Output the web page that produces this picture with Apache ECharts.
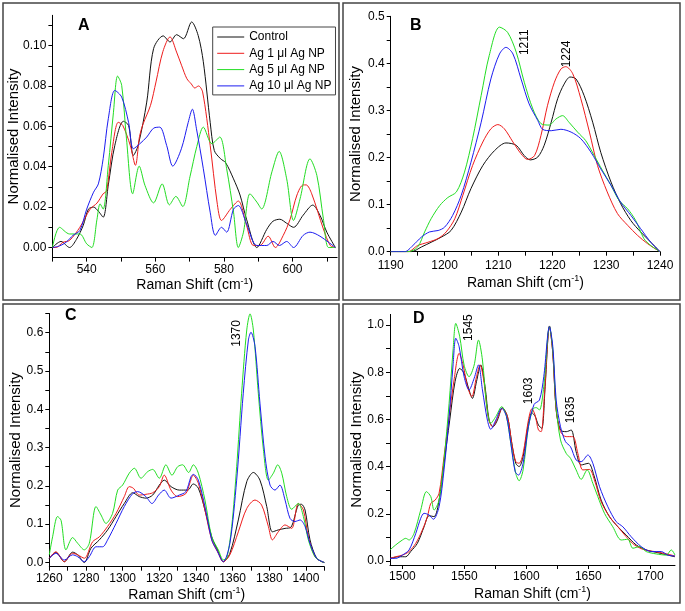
<!DOCTYPE html>
<html>
<head>
<meta charset="utf-8">
<script src="https://cdn.jsdelivr.net/npm/echarts@6/dist/echarts.min.js"></script>
<style>
html,body{margin:0;padding:0;background:#fff;}
#chart{width:685px;height:611px;}
</style>
</head>
<body>
<div id="chart"></div>
<script>
// ---------- series names ----------
var seriesNames = ['Control', 'Ag 1 \u03bcl Ag NP', 'Ag 5 \u03bcl Ag NP', 'Ag 10 \u03bcl Ag NP'];
var seriesColors = ['#111111', '#ee1c1c', '#22dd22', '#1c1cf0'];

// ---------- Panel A (x: Raman shift, y: normalised intensity) ----------
var aControl = [[530,0],[532.5,0.003],[535,0],[537,0.004],[539,0.011],[540.5,0.019],[542,0.020],[543.4,0.018],[544.8,0.015],[546.3,0.031],[548.2,0.0506],[550.7,0.0625],[552.2,0.0605],[553.6,0.0456],[555,0.0506],[557.5,0.072],[559.5,0.0985],[562.3,0.1048],[564.3,0.1018],[566.2,0.1054],[568.2,0.1034],[570.6,0.1117],[572.5,0.105],[574,0.092],[576,0.062],[577.2,0.048],[579,0.044],[580.5,0.042],[582.8,0.034],[584.7,0.026],[586.6,0.014],[589.6,0],[592.5,0.009],[594.3,0.013],[596.3,0.014],[598.3,0.012],[600.3,0.010],[603.1,0.016],[605.9,0.021],[608,0.016],[610,0.0076],[612.5,0]];
var aAg1 = [[530,0],[531.1,0],[533.1,0.0026],[535,0.0035],[538,0.010],[541,0.019],[543,0.022],[544.8,0.0266],[545.8,0.028],[547.3,0.047],[549.2,0.062],[550.5,0.0605],[552.7,0.0506],[554.2,0.0407],[555.4,0.055],[556.4,0.061],[558.6,0.0704],[560.2,0.082],[562.2,0.097],[564.3,0.1043],[566.2,0.0968],[567.7,0.090],[569.2,0.0836],[570.5,0.081],[571.5,0.079],[572.6,0.080],[573.8,0.077],[576,0.0506],[578,0.0225],[579.3,0.0134],[581.9,0.019],[584.2,0.023],[586.6,0.011],[588.6,0.001],[590.5,0.001],[592.9,0.0056],[595,0],[597.3,0.006],[599.3,0.014],[601.3,0.026],[603.1,0.031],[604,0.031],[605.6,0.0266],[609,0.0092],[611,0.001],[612.5,0]];
var aAg5 = [[530,0],[532.1,0.010],[535,0.0067],[538,0.0067],[540,0.0018],[541.5,0],[543,0.014],[543.9,0.0216],[544.8,0.019],[546.3,0.0407],[547.8,0.067],[549,0.0849],[550.2,0.0803],[551.6,0.0538],[553.4,0.0266],[555.3,0.0403],[557,0.0307],[559.5,0.0221],[562,0.0315],[564.1,0.0211],[566,0.0253],[568,0.0203],[570.1,0.035],[572.1,0.050],[574,0.0596],[576.5,0.0514],[578.8,0.0547],[580.8,0.039],[582.8,0.0175],[584.2,0],[585.7,0.0076],[587.6,0.0266],[589.6,0.0225],[591,0.0191],[594,0.0375],[596.1,0.0476],[598.3,0.034],[600.3,0.0134],[602.2,0.0241],[605.1,0.0439],[607.1,0.0357],[609,0.0142],[610.5,0],[612.5,0]];
var aAg10 = [[530,0],[532.1,0.0008],[534,0.0026],[536,0.006],[538,0.0084],[540,0.019],[542,0.0274],[543.4,0.0315],[544.8,0.044],[546.3,0.0638],[548.2,0.0778],[550.2,0.0745],[552.2,0.062],[553.6,0.0489],[555.5,0.0514],[557.5,0.0547],[559.5,0.0591],[561.3,0.0596],[563.3,0.0506],[565.1,0.0403],[567.6,0.0489],[569.6,0.062],[570.8,0.0685],[572,0.0588],[574,0.039],[576,0.0175],[577.5,0.006],[579.3,0.010],[580.8,0.0076],[582.8,0.019],[584.2,0.0208],[586.6,0.0117],[589.6,0.001],[592.5,0.001],[594.3,0.003],[596.2,0.001],[598.3,0.003],[600.3,0],[603.1,0.006],[605.1,0.0076],[608,0.0056],[612.5,0]];
var annA = [[563.6, 0.1158, '565']];
var xTicksA = [530,540,550,560,570,580,590,600,610];
var xLabelsA = [540,560,580,600];
var yTicksA = [0,0.01,0.02,0.03,0.04,0.05,0.06,0.07,0.08,0.09,0.10,0.11];
var yLabelsA = [0,0.02,0.04,0.06,0.08,0.10];

// ---------- Panel B ----------
var bControl = [[1190,0],[1193.8,0],[1195.7,0.01],[1197.5,0.02],[1199.4,0.031],[1201.2,0.045],[1203.1,0.084],[1204.9,0.134],[1207.1,0.183],[1209.3,0.215],[1211.4,0.231],[1213.3,0.226],[1214.8,0.204],[1215.9,0.195],[1217.3,0.201],[1218.5,0.226],[1219.8,0.275],[1221,0.325],[1222.2,0.356],[1223.3,0.371],[1224.4,0.367],[1225.9,0.332],[1227.5,0.275],[1229,0.211],[1230.9,0.148],[1232.7,0.102],[1234.6,0.066],[1236.4,0.042],[1238.3,0.02],[1240,0]];
var bAg1 = [[1190,0],[1193.2,0],[1195,0.013],[1196.9,0.02],[1198.8,0.028],[1200.3,0.042],[1201.9,0.07],[1203.4,0.12],[1205.2,0.183],[1207.1,0.233],[1208.6,0.261],[1209.9,0.27],[1211.1,0.261],[1212.7,0.233],[1214.2,0.208],[1215.4,0.196],[1216.7,0.204],[1217.9,0.247],[1219.1,0.31],[1220.4,0.36],[1221.6,0.388],[1222.5,0.393],[1223.8,0.378],[1225.3,0.325],[1226.9,0.254],[1228.4,0.183],[1230.2,0.127],[1232.1,0.081],[1234,0.056],[1235.8,0.035],[1237.7,0.017],[1240,0]];
var bAg5 = [[1190,0],[1193.2,0],[1195,0.01],[1196.3,0.042],[1197.5,0.07],[1199.1,0.098],[1200.6,0.115],[1202.2,0.127],[1203.7,0.169],[1205.2,0.24],[1206.8,0.332],[1208.3,0.417],[1210.2,0.477],[1211.7,0.466],[1213.3,0.424],[1214.8,0.36],[1216.4,0.303],[1217.9,0.272],[1219.4,0.269],[1220.7,0.282],[1221.9,0.289],[1223.1,0.275],[1224.7,0.254],[1226.2,0.236],[1227.8,0.204],[1229.3,0.173],[1230.9,0.141],[1232.4,0.109],[1234,0.091],[1235.5,0.066],[1237,0.028],[1238.3,0.013],[1240,0]];
var bAg10 = [[1190,0],[1192.6,0],[1194.1,0.013],[1195.7,0.031],[1197.2,0.042],[1198.8,0.045],[1200,0.052],[1201.5,0.077],[1203.1,0.12],[1204.9,0.19],[1206.8,0.275],[1208.6,0.367],[1210.2,0.42],[1211.4,0.434],[1212.7,0.42],[1214.2,0.367],[1215.7,0.314],[1217.3,0.279],[1218.2,0.26],[1219.8,0.257],[1221.6,0.26],[1223.5,0.254],[1225.3,0.24],[1227.2,0.211],[1229,0.176],[1230.9,0.141],[1232.7,0.105],[1234.6,0.077],[1236.4,0.049],[1238.3,0.02],[1240,0]];
var annB = [[1214.9, 0.445, '1211'], [1222.6, 0.42, '1224']];
var xTicksB = [1190,1195,1200,1205,1210,1215,1220,1225,1230,1235,1240];
var xLabelsB = [1190,1200,1210,1220,1230,1240];
var yTicksB = [0,0.05,0.1,0.15,0.2,0.25,0.3,0.35,0.4,0.45,0.5];
var yLabelsB = [0,0.1,0.2,0.3,0.4,0.5];

// ---------- Panel C ----------
var cControl = [[1260,0.011],[1263.6,0.026],[1268.2,0.002],[1272.7,0.027],[1275.5,0.02],[1279.1,0],[1282.7,0.037],[1287.3,0.059],[1291.8,0.085],[1296.4,0.12],[1300.9,0.154],[1305.5,0.182],[1309.1,0.172],[1312.7,0.168],[1316.4,0.176],[1320,0.202],[1322.7,0.215],[1326.4,0.198],[1330.9,0.189],[1335.5,0.189],[1338.5,0.205],[1341.3,0.194],[1344.9,0.137],[1348.6,0.067],[1352.2,0.028],[1354.9,0.002],[1358.5,0.024],[1363.1,0.111],[1367.7,0.211],[1371.3,0.235],[1374.9,0.215],[1378.6,0.146],[1381.7,0.08],[1384.9,0.085],[1388.6,0.089],[1391.8,0.092],[1395.8,0.15],[1397.5,0.152],[1399.5,0.137],[1402.2,0.059],[1405.8,0.011],[1408.9,0.002],[1410,0]];
var cAg1 = [[1260,0.011],[1263.6,0.028],[1268.2,0.002],[1272.7,0.024],[1275.5,0.02],[1279.1,0.011],[1283.6,0.054],[1287.3,0.067],[1291.8,0.094],[1296.4,0.128],[1300.9,0.172],[1303.6,0.198],[1305.8,0.194],[1309.1,0.176],[1312.7,0.178],[1316.4,0.182],[1320,0.198],[1322.7,0.228],[1326.4,0.189],[1330,0.172],[1334.5,0.18],[1336.5,0.205],[1338.5,0.228],[1341.3,0.207],[1344.9,0.137],[1348.6,0.059],[1352.2,0.024],[1354.9,0.002],[1358.5,0.02],[1363.1,0.08],[1367.7,0.141],[1372.2,0.163],[1375.8,0.15],[1379.5,0.094],[1381.7,0.059],[1384.9,0.08],[1388.6,0.098],[1392.2,0.089],[1395.8,0.154],[1398.6,0.137],[1401.3,0.067],[1404.9,0.015],[1408.6,0.002],[1410,0]];
var cAg5 = [[1260,0.02],[1261.8,0.067],[1264.5,0.12],[1266.4,0.11],[1269.1,0.033],[1272.7,0.065],[1275.5,0.05],[1279.1,0.033],[1281.8,0.05],[1285.5,0.146],[1288.2,0.124],[1290.9,0.102],[1294.5,0.128],[1297.3,0.189],[1300,0.202],[1303.6,0.233],[1306.4,0.246],[1310,0.22],[1313.6,0.237],[1316.4,0.243],[1320,0.22],[1323.6,0.255],[1326.9,0.228],[1330,0.25],[1332.7,0.255],[1336,0.235],[1338.6,0.255],[1341.3,0.233],[1344.9,0.163],[1348.6,0.067],[1352.2,0.033],[1354.9,0.007],[1356.8,0.011],[1359.5,0.094],[1362.2,0.25],[1364.9,0.442],[1367.7,0.607],[1369.5,0.649],[1371.3,0.607],[1374,0.442],[1376.8,0.294],[1379.5,0.215],[1382.2,0.233],[1384.6,0.255],[1386.8,0.233],[1389.5,0.172],[1392.2,0.139],[1395.8,0.154],[1398.6,0.12],[1401.3,0.059],[1404.9,0.015],[1408.6,0.002],[1410,0]];
var cAg10 = [[1260,0.011],[1263.6,0.024],[1268.2,0.0065],[1272.7,0.02],[1275.5,0.015],[1279.1,0.002],[1281.8,0.015],[1285.5,0.041],[1289.1,0.041],[1291.8,0.059],[1296.4,0.102],[1300.9,0.146],[1305.5,0.18],[1308.2,0.185],[1312.7,0.172],[1316,0.154],[1319.6,0.176],[1322.7,0.189],[1326.4,0.168],[1330.9,0.176],[1334.5,0.185],[1337.3,0.224],[1338.6,0.23],[1341.3,0.215],[1344.9,0.146],[1348.6,0.059],[1351.3,0.033],[1354.9,0.002],[1358.5,0.05],[1362.2,0.215],[1365.8,0.442],[1368.6,0.581],[1370,0.601],[1372.2,0.564],[1374.9,0.416],[1377.7,0.276],[1380.4,0.202],[1383.1,0.189],[1385.8,0.202],[1388.6,0.163],[1391.3,0.115],[1394,0.107],[1396.8,0.111],[1399.5,0.094],[1402.2,0.05],[1405.8,0.011],[1408.9,0.002],[1410,0]];
var annC = [[1362.2, 0.598, '1370']];
var xTicksC = [1260,1270,1280,1290,1300,1310,1320,1330,1340,1350,1360,1370,1380,1390,1400,1410];
var xLabelsC = [1260,1280,1300,1320,1340,1360,1380,1400];
var yTicksC = [0,0.05,0.1,0.15,0.2,0.25,0.3,0.35,0.4,0.45,0.5,0.55,0.6,0.65];
var yLabelsC = [0,0.1,0.2,0.3,0.4,0.5,0.6];

// ---------- Panel D ----------
var dControl = [[1490,0.011],[1497.3,0.018],[1502.7,0.018],[1506.7,0.04],[1512.1,0.075],[1517.5,0.145],[1521.5,0.192],[1525.6,0.188],[1529.6,0.258],[1533.6,0.414],[1538.2,0.597],[1542.5,0.76],[1546.3,0.816],[1549.8,0.795],[1553.8,0.725],[1556.5,0.689],[1559.8,0.76],[1563.2,0.831],[1566.7,0.739],[1570,0.597],[1573.2,0.569],[1576.7,0.597],[1580.7,0.65],[1584.8,0.612],[1588.3,0.499],[1591.5,0.414],[1594.2,0.4],[1597.4,0.442],[1601.7,0.583],[1604.5,0.628],[1607,0.615],[1609.8,0.576],[1612.5,0.562],[1615.2,0.739],[1618.7,0.996],[1621.4,0.88],[1624.1,0.64],[1627.6,0.555],[1632.2,0.548],[1636.2,0.555],[1640.2,0.463],[1644.3,0.407],[1650.2,0.414],[1654.5,0.364],[1660.4,0.258],[1667.1,0.188],[1673.9,0.145],[1680.6,0.11],[1688.7,0.068],[1696.8,0.047],[1706.2,0.035],[1720,0.018]];
var dAg1 = [[1490,0.011],[1494.6,0.018],[1500,0.025],[1505.4,0.04],[1510.8,0.075],[1516.1,0.131],[1520.2,0.188],[1522.9,0.244],[1526.4,0.258],[1529.6,0.287],[1533.6,0.442],[1537.7,0.612],[1541.7,0.767],[1545.8,0.88],[1549,0.831],[1552.5,0.739],[1556,0.696],[1559.8,0.781],[1562.7,0.831],[1566,0.753],[1569.4,0.605],[1572.7,0.569],[1576.7,0.605],[1580.7,0.647],[1584.8,0.612],[1588.3,0.499],[1591.5,0.421],[1594.2,0.414],[1597.4,0.456],[1601.7,0.597],[1604.5,0.645],[1607,0.62],[1609.8,0.555],[1612,0.548],[1614.7,0.71],[1618.7,0.993],[1621.4,0.88],[1624.1,0.64],[1627.6,0.548],[1632.2,0.527],[1637.5,0.527],[1641.6,0.456],[1645.6,0.386],[1651,0.388],[1655,0.343],[1660.4,0.251],[1667.1,0.188],[1673.9,0.145],[1680.6,0.103],[1687.3,0.068],[1695.4,0.047],[1703.5,0.04],[1711.6,0.032],[1720,0.021]];
var dAg5 = [[1490,0.047],[1494.6,0.068],[1500,0.089],[1502.7,0.096],[1505.4,0.089],[1509.4,0.117],[1514.8,0.216],[1519.4,0.294],[1522.9,0.273],[1525.6,0.216],[1529.6,0.258],[1533.6,0.428],[1537.7,0.668],[1540.9,0.894],[1543.1,1.007],[1546.3,0.95],[1549.8,0.83],[1553.8,0.781],[1557.9,0.83],[1561.4,0.936],[1564.6,0.852],[1567.8,0.668],[1571.3,0.583],[1575.4,0.612],[1580.2,0.654],[1584,0.612],[1587.5,0.499],[1591.5,0.371],[1594.2,0.34],[1597.4,0.386],[1601.7,0.569],[1605.5,0.645],[1608,0.65],[1610.6,0.64],[1614.1,0.739],[1618.7,0.993],[1621.4,0.894],[1624.1,0.654],[1627.6,0.513],[1632.2,0.456],[1635.7,0.435],[1640.2,0.386],[1644.3,0.346],[1649.1,0.386],[1653.7,0.329],[1657.7,0.273],[1663.1,0.202],[1669.8,0.145],[1676.6,0.089],[1681.9,0.092],[1686,0.054],[1691.4,0.061],[1696.8,0.04],[1704.8,0.03],[1712.9,0.025],[1717,0.047],[1720,0.025]];
var dAg10 = [[1490,0.011],[1494.6,0.011],[1500,0.025],[1505.4,0.047],[1510.8,0.117],[1514.8,0.181],[1517.5,0.202],[1521.5,0.195],[1525,0.177],[1529.6,0.23],[1533.6,0.386],[1537.7,0.612],[1540.9,0.831],[1543.1,0.944],[1545.8,0.908],[1549.8,0.781],[1553.8,0.725],[1557.9,0.774],[1561.4,0.831],[1564.6,0.725],[1568.6,0.597],[1571.3,0.558],[1575.4,0.597],[1580.2,0.647],[1584,0.612],[1587.5,0.499],[1591,0.379],[1593.7,0.364],[1597.4,0.414],[1601.7,0.569],[1606.3,0.664],[1610.6,0.682],[1614.1,0.781],[1618.7,0.993],[1621.4,0.908],[1624.1,0.682],[1627.6,0.569],[1631.6,0.506],[1635.7,0.484],[1640.2,0.428],[1644.3,0.421],[1649.7,0.449],[1653.7,0.414],[1659.1,0.315],[1665.8,0.23],[1672.5,0.167],[1677.9,0.145],[1684.6,0.103],[1692.7,0.061],[1700.8,0.04],[1708.9,0.04],[1714.2,0.025],[1720,0.021]];
var annD = [[1553.9, 0.989, '1545'], [1602.3, 0.721, '1603'], [1636.2, 0.64, '1635']];
var xTicksD = [1500,1525,1550,1575,1600,1625,1650,1675,1700];
var xLabelsD = [1500,1550,1600,1650,1700];
var yTicksD = [0,0.1,0.2,0.3,0.4,0.5,0.6,0.7,0.8,0.9,1.0];
var yLabelsD = [0,0.2,0.4,0.6,0.8,1.0];

var panelLetters = ['A','B','C','D'];

// ---------- build ----------
var FONT = '"Liberation Sans", Arial, sans-serif';
var panels = [
  {grid:{left:52.4, top:15.3, width:284.7, height:242.3}, x:[530,613], y:[-0.005,0.115], xt:xTicksA, xl:xLabelsA, yt:yTicksA, yl:yLabelsA, yd:2, data:[aControl,aAg1,aAg5,aAg10], ann:annA, yGap:31, xGap:19, xMargin:6, letter:{left:78,top:18}},
  {grid:{left:390.7, top:16.3, width:269.3, height:235.4}, x:[1190,1240], y:[0,0.5], xt:xTicksB, xl:xLabelsB, yt:yTicksB, yl:yLabelsB, yd:1, data:[bControl,bAg1,bAg5,bAg10], ann:annB, yGap:27, xGap:22, xMargin:8, letter:{left:410,top:18}},
  {grid:{left:49.3, top:313.5, width:275, height:253.2}, x:[1260,1410], y:[-0.011,0.65], xt:xTicksC, xl:xLabelsC, yt:yTicksC, yl:yLabelsC, yd:1, data:[cControl,cAg1,cAg5,cAg10], ann:annC, yGap:26, xGap:19, xMargin:6, letter:{left:65,top:308}},
  {grid:{left:390, top:314.4, width:285, height:250.6}, x:[1490,1720], y:[-0.017,1.045], xt:xTicksD, xl:xLabelsD, yt:yTicksD, yl:yLabelsD, yd:1, data:[dControl,dAg1,dAg5,dAg10], ann:annD, yGap:26, xGap:20, xMargin:6, letter:{left:413,top:311}}
];

var grids = [], xAxes = [], yAxes = [], series = [], titles = [];
panels.forEach(function (p, i) {
  grids.push({left:p.grid.left, top:p.grid.top, width:p.grid.width, height:p.grid.height, containLabel:false, outerBoundsMode:'none'});
  xAxes.push({
    type:'value', gridIndex:i, min:p.x[0], max:p.x[1],
    axisLine:{show:true, onZero:false, lineStyle:{color:'#000', width:1}},
    axisTick:{show:true, inside:false, length:4, lineStyle:{color:'#000', width:1}, customValues:p.xt},
    axisLabel:{show:true, customValues:p.xl, color:'#000', fontSize:12, margin:p.xMargin, fontFamily:FONT, formatter:function(v){return String(Math.round(v));}},
    splitLine:{show:false}, minorTick:{show:false},
    name:'Raman Shift (cm{sup|-1})', nameLocation:'middle', nameGap:p.xGap, nameMoveOverlap:false,
    nameTextStyle:{color:'#000', fontSize:14, fontFamily:FONT, lineHeight:18, rich:{sup:{fontSize:9, fontFamily:FONT, color:'#000', verticalAlign:'top', lineHeight:10}}}
  });
  (function(dec){
  yAxes.push({
    type:'value', gridIndex:i, min:p.y[0], max:p.y[1],
    axisLine:{show:true, onZero:false, lineStyle:{color:'#000', width:1}},
    axisTick:{show:true, inside:false, length:4, lineStyle:{color:'#000', width:1}, customValues:p.yt},
    axisLabel:{show:true, customValues:p.yl, color:'#000', fontSize:12, margin:6, fontFamily:FONT, formatter:function(v){return v.toFixed(dec);}},
    splitLine:{show:false}, minorTick:{show:false},
    name:'Normalised Intensity', nameLocation:'middle', nameGap:p.yGap, nameRotate:90, nameMoveOverlap:false,
    nameTextStyle:{color:'#000', fontSize:15, fontFamily:FONT}
  });
  })(p.yd);
  p.data.forEach(function (d, k) {
    var s = {
      type:'line', name:seriesNames[k], xAxisIndex:i, yAxisIndex:i, data:d,
      showSymbol:false, symbol:'none', smooth:0.3, animation:false,
      lineStyle:{color:seriesColors[k], width:1}, itemStyle:{color:seriesColors[k]},
      emphasis:{disabled:true}, z:2+k
    };
    if (k === 0) {
      s.markPoint = {
        symbol:'circle', symbolSize:0, silent:true, animation:false,
        label:{show:true, position:'inside', rotate:90, color:'#000', fontSize:12, fontFamily:FONT, formatter:function(q){return q.name;}},
        data:p.ann.map(function(a){return {name:a[2], coord:[a[0], a[1]]};})
      };
    }
    series.push(s);
  });
  titles.push({text:panelLetters[i], left:p.letter.left, top:p.letter.top, padding:0, textStyle:{fontSize:16, fontWeight:'bold', color:'#000', fontFamily:FONT}});
});

var boxes = [[3,3,336,297],[343,3,337,297],[3,304,336,299],[343,304,337,299]];
var chart = echarts.init(document.getElementById('chart'), null, {renderer:'canvas'});
chart.setOption({
  backgroundColor:'#fff',
  animation:false,
  title:titles,
  legend:{
    data:seriesNames, orient:'vertical', left:212.7, top:27, padding:[4,4,3,4], itemGap:4.3,
    itemWidth:27, itemHeight:12, borderColor:'#444', borderWidth:1, backgroundColor:'#fff',
    itemStyle:{opacity:0, borderWidth:0},
    lineStyle:{width:1},
    textStyle:{color:'#000', fontSize:12, fontFamily:FONT}, selectedMode:false, inactiveColor:'#000'
  },
  grid:grids, xAxis:xAxes, yAxis:yAxes, series:series,
  graphic:boxes.map(function(b){return {type:'rect', silent:true, shape:{x:b[0], y:b[1], width:b[2], height:b[3]}, style:{fill:'none', stroke:'#444', lineWidth:1.5}};})
});
</script>
</body>
</html>
